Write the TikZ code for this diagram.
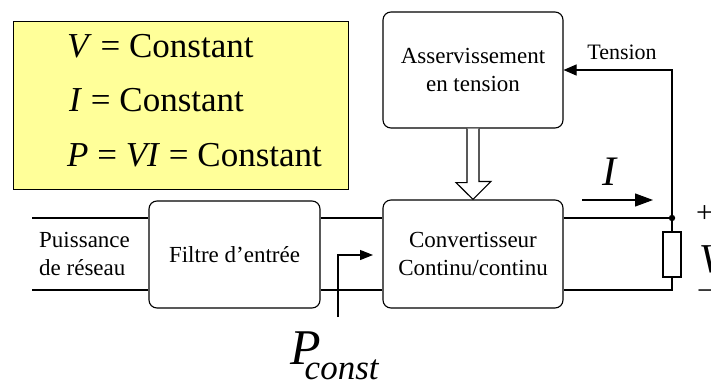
\documentclass[tikz,border=0pt]{standalone}
\usepackage{fontspec}
\setmainfont{Liberation Serif}
\usetikzlibrary{arrows.meta,calc}
\definecolor{NoteYellow}{HTML}{FFFF99}
\tikzset{
    block/.style = {draw, rounded corners=8pt, line width=1.1pt,
        align=center, font=\fontsize{23}{28}\selectfont},
    wire/.style = {draw, line width=1.1pt},
    arrow/.style = {draw, line width=1.1pt, -{Triangle[length=13pt,width=10pt]}},
    eqn/.style = {anchor=base west, inner sep=0, font=\fontsize{35}{35}\selectfont}
}
\begin{document}
\begin{tikzpicture}[x=1pt,y=-1pt]
            \useasboundingbox (0,0) rectangle (711,383);
            % yellow note
            \node[draw, line width=.9pt, fill=NoteYellow, anchor=north west,
                minimum width=335, minimum height=168] (note) at (13,21) {};
            \node[eqn] (eqV) at (67,57) {\textit{V} = Constant};
            \node[eqn] (eqI) at (69,111) {\textit{I} = Constant};
            \node[eqn] (eqP) at (67,166) {\textit{P} = \textit{VI} = Constant};
            % blocks
            \node[block, minimum width=180, minimum height=116] (ctrl) at (473,70) {Asservissement\\en tension};
            \node[block, minimum width=180, minimum height=108] (conv) at (473,254) {Convertisseur\\Continu/continu};
            \node[block, minimum width=171, minimum height=107] (filt) at (234.5,254.5) {Filtre d’entrée};
            \node[draw, line width=1.1pt, minimum width=18, minimum height=45, inner sep=0] (load) at (672,254.5) {};
            \node[anchor=west, inner sep=0, align=left, font=\fontsize{23}{28}\selectfont] (src) at (39,254) {Puissance\\de réseau};
            % wires
            \coordinate (inT) at (32,218);
            \coordinate (inB) at (32,290);
            \coordinate (jp) at (672,218);
            \coordinate (jn) at (672,290);
            \draw[wire] (inT) -- (inT -| filt.west);
            \draw[wire] (inB) -- (inB -| filt.west);
            \draw[wire] (filt.east |- inT) -- (conv.west |- inT);
            \draw[wire] (filt.east |- inB) -- (conv.west |- inB);
            \draw[wire] (conv.east |- jp) -- (jp) -- (load.north);
            \draw[wire] (load.south) -- (jn) -- (conv.east |- jn);
            \fill (jp) circle (3.2);
            % feedback
            \draw[arrow, -{Triangle[length=13pt,width=11pt]}] (jp) |- (ctrl.east);
            \node[font=\fontsize{22}{22}\selectfont] (tens) at (622,52) {Tension};
            \draw[line width=1.1pt, fill=white] ($(ctrl.south)+(-6,0)$) -- ++(0,54) -- ++(-11,0)
                -- (conv.north) -- ++(18,-18) -- ++(-12,0) -- ($(ctrl.south)+(6,0)$);
            % current
            \coordinate (iA) at (582,200);
            \coordinate (iB) at (653,200);
            \draw[arrow, -{Triangle[length=18pt,width=13pt]}] (iA) -- (iB);
            \node[anchor=base, inner sep=0, font=\fontsize{42}{42}\selectfont\itshape] (ilbl) at (609,185) {I};
            % output voltage
            \node[anchor=west, inner sep=0, font=\fontsize{30}{30}\selectfont] (plus) at (696,214) {+};
            \node[anchor=base west, inner sep=0, font=\fontsize{41}{41}\selectfont\itshape] (vlbl) at (699,272) {V};
            \node[anchor=west, inner sep=0, font=\fontsize{30}{30}\selectfont] (minus) at (697,295) {−};
            % constant power
            \coordinate (pA) at (338,317);
            \coordinate (pB) at (373,255);
            \draw[arrow] (pA) |- (pB);
            \node[anchor=base west, inner sep=0, font=\fontsize{50}{50}\selectfont] (pc) at (290,364)
                {\textit{P}\kern-16pt\raisebox{-15pt}{\fontsize{35}{35}\selectfont\textit{const}}};
\end{tikzpicture}
\end{document}
